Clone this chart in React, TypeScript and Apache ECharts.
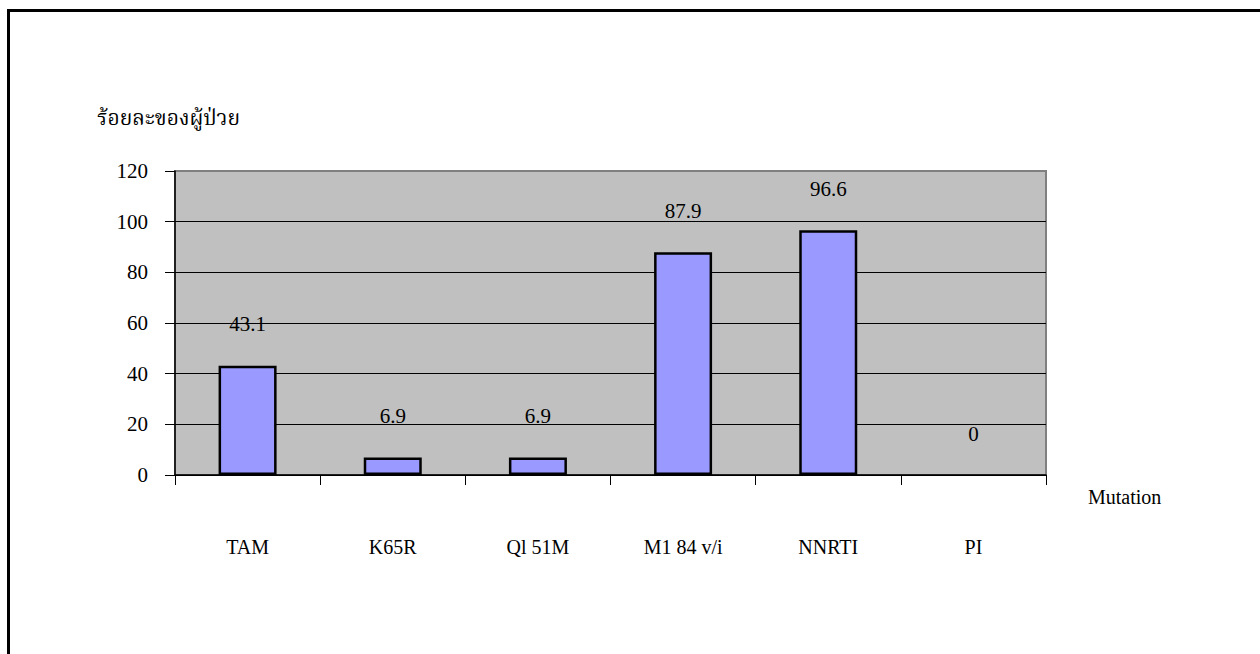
import React, { useEffect, useRef } from "react";
import * as echarts from "echarts";

const categories = ["TAM", "K65R", "Ql 51M", "M1 84 v/i", "NNRTI", "PI"];
const values = [43.1, 6.9, 6.9, 87.9, 96.6, 0];
const yTitle = "ร้อยละของผู้ป่วย";
const xTitle = "Mutation";

const FONT = "'Liberation Serif', 'Noto Serif Thai', serif";

export default function App() {
  const ref = useRef<HTMLDivElement>(null);
  useEffect(() => {
    document.body.style.margin = "0";
    const chart = echarts.init(ref.current!, null, { renderer: "svg" });
    chart.setOption({
      animation: false,
      textStyle: { fontFamily: FONT },
      grid: {
        left: 175,
        right: 214,
        top: 171,
        bottom: 179,
        show: true,
        backgroundColor: "#C0C0C0",
        borderColor: "#808080",
        borderWidth: 2,
      },
      graphic: [
        {
          type: "rect",
          shape: { x: 8.5, y: 10.5, width: 1300, height: 700 },
          style: { fill: "none", stroke: "#000", lineWidth: 3 },
          silent: true,
        },
        {
          type: "text",
          x: 97,
          y: 118,
          style: {
            text: yTitle,
            fontFamily: FONT,
            fontSize: 21,
            fill: "#000",
            textAlign: "left",
            textVerticalAlign: "middle",
          },
        },
      ],
      xAxis: {
        type: "category",
        data: categories,
        name: xTitle,
        nameLocation: "end",
        nameGap: 42,
        nameTextStyle: {
          fontFamily: FONT,
          fontSize: 20,
          color: "#000",
          verticalAlign: "top",
          align: "left",
          padding: [12, 0, 0, 0],
        },
        axisLine: { lineStyle: { color: "#000", width: 1.5 } },
        axisTick: { show: true, length: 10, inside: false, lineStyle: { color: "#000" } },
        axisLabel: { margin: 62, fontFamily: FONT, fontSize: 20, color: "#000" },
      },
      yAxis: {
        type: "value",
        min: 0,
        max: 120,
        interval: 20,
        axisLine: { show: true, lineStyle: { color: "#000", width: 1.5 } },
        axisTick: { show: true, length: 10, lineStyle: { color: "#000" } },
        axisLabel: { margin: 27, fontFamily: FONT, fontSize: 21, color: "#000" },
        splitLine: {
          lineStyle: {
            color: ["#000", "#000", "#000", "#000", "#000", "#000", "#808080"],
            width: 1,
          },
        },
      },
      series: [
        {
          type: "bar",
          data: values.map((v) => (v === 0 ? { value: v, itemStyle: { borderWidth: 0 } } : v)),
          barWidth: 58,
          itemStyle: { color: "#9999FF", borderColor: "#000", borderWidth: 2.5 },
          label: {
            show: true,
            position: "top",
            distance: 31,
            fontFamily: FONT,
            fontSize: 21,
            color: "#000",
          },
        },
      ],
    });
    return () => chart.dispose();
  }, []);
  return <div ref={ref} style={{ width: 1260, height: 654 }} />;
}
